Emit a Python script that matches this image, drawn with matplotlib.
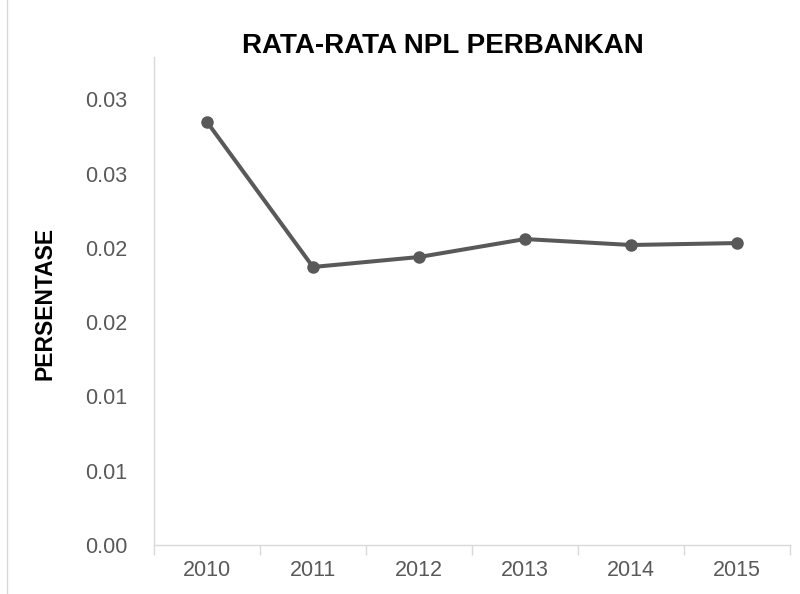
import matplotlib
matplotlib.use("Agg")
import matplotlib.pyplot as plt
from matplotlib.lines import Line2D
from matplotlib import font_manager as fm
import numpy as np

years = ["2010", "2011", "2012", "2013", "2014", "2015"]
npl = [0.02847, 0.01871, 0.01938, 0.02059, 0.02019, 0.02032]
ytick_vals = [0.0, 0.005, 0.01, 0.015, 0.02, 0.025, 0.03]
ytick_labels = ["0.00", "0.01", "0.01", "0.02", "0.02", "0.03", "0.03"]

names = {f.name for f in fm.fontManager.ttflist}
narrow = "Liberation Sans Narrow" if "Liberation Sans Narrow" in names else "Liberation Sans"

fig = plt.figure(figsize=(8, 5.94), dpi=100)
ax = fig.add_axes([0.1925, 0.0825, 0.795, 0.8215])

x = np.arange(len(years))
ax.plot(x, npl, color="#595959", lw=2.9, marker="o", ms=8, solid_capstyle="round")

ax.set_xlim(-0.5, len(years) - 0.5)
ax.set_ylim(0, 0.03284)
ax.set_yticks(ytick_vals)
ax.set_yticklabels(ytick_labels)
ax.set_xticks(x)
ax.set_xticklabels(years)
ax.set_xticks(np.arange(-0.5, len(years)), minor=True)
ax.tick_params(axis="x", which="major", length=0, pad=11, labelsize=15.5, labelcolor="#595959")
ax.tick_params(axis="x", which="minor", length=7, color="#d9d9d9", width=1)
ax.tick_params(axis="y", length=0, pad=19, labelsize=15.5, labelcolor="#595959")
for lab in ax.get_xticklabels() + ax.get_yticklabels():
    lab.set_fontfamily(["Liberation Sans", "DejaVu Sans"])

for s in ["top", "right"]:
    ax.spines[s].set_visible(False)
for s in ["left", "bottom"]:
    ax.spines[s].set_color("#d9d9d9")
    ax.spines[s].set_linewidth(1)

fig.text(0.554, 0.922, "RATA-RATA NPL PERBANKAN", ha="center", va="center",
         fontsize=20, fontweight="bold", family=[narrow, "DejaVu Sans"], color="#000000")
fig.text(0.056, 0.49, "PERSENTASE", ha="center", va="center", rotation=90,
         fontsize=16.5, fontweight="bold", family=[narrow, "DejaVu Sans"], color="#000000")

fig.add_artist(Line2D([0.009, 0.009], [0.0, 1.0], transform=fig.transFigure,
                      color="#d9d9d9", lw=1))

fig.savefig("out.png", dpi=100, facecolor="white")
